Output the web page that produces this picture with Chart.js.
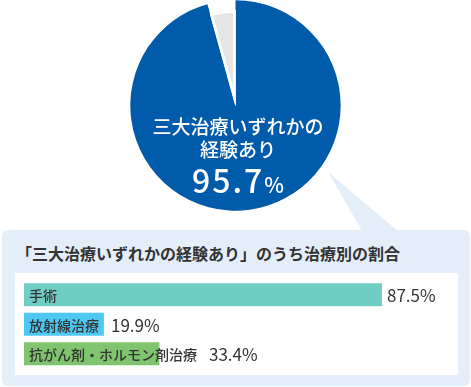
<!DOCTYPE html>
<html lang="ja">
<head>
<meta charset="utf-8">
<script src="https://cdn.jsdelivr.net/npm/chart.js@4"></script>
<style>
  html, body { margin: 0; padding: 0; background: #fff; }
  #wrap { position: relative; width: 471px; height: 387px; overflow: hidden; font-family: "Noto Sans CJK JP", sans-serif; }
  #pieBox { position: absolute; left: 130px; top: 0; width: 211px; height: 211px; }
  #callout { position: absolute; left: 0; top: 0; }
  #panel { position: absolute; left: 2px; top: 230px; width: 468px; height: 156px; background: #e4eef8; border-radius: 6px; }
  #title { position: absolute; left: 16px; top: 241px; font-size: 16px; line-height: 24px; font-weight: bold; color: #333; white-space: nowrap; }
  #barBox { position: absolute; left: 15px; top: 273px; width: 443px; height: 102px; background: #fff; }
</style>
</head>
<body>
<div id="wrap">
  <svg id="callout" width="471" height="240"><polygon points="328,172 362,231 398,231" fill="#e4eef8"/></svg>
  <div id="panel"></div>
  <div id="title">「三大治療いずれかの経験あり」のうち治療別の割合</div>
  <div id="barBox"><canvas id="barCanvas"></canvas></div>
  <div id="pieBox"><canvas id="pieCanvas"></canvas></div>
</div>
<script>
// 円グラフのデータ
const pieLabels = ['三大治療いずれかの経験あり', 'なし'];
const pieValues = [95.7, 4.3];
const pieColors = ['#005bab', '#e5e5e5'];

// 治療別の割合
const treatments = ['手術', '放射線治療', '抗がん剤・ホルモン剤治療'];
const treatmentValues = [87.5, 19.9, 33.4];
const barColors = ['#6fcdc4', '#4cc8f2', '#80c46f'];

const FONT = '"Noto Sans CJK JP", sans-serif';

// 「なし」の扇形を少し小さくする
const shrinkPlugin = {
    id: 'shrinkSlice',
    afterDatasetsUpdate(chart) {
        const arc = chart.getDatasetMeta(0).data[1];
        if (arc) arc.outerRadius = arc.outerRadius - 10;
    }
};

// 円の中の文字
const centerTextPlugin = {
    id: 'centerText',
    afterDraw(chart) {
        const ctx = chart.ctx;
        const arc = chart.getDatasetMeta(0).data[0];
        const cx = arc.x + 2.5, cy = arc.y;
        ctx.save();
        ctx.fillStyle = '#fff';
        ctx.textAlign = 'center';
        ctx.textBaseline = 'middle';
        ctx.font = '500 19px ' + FONT;
        ctx.fillText('三大治療いずれかの', cx, cy + 21);
        ctx.fillText('経験あり', cx, cy + 44);
        // 数値
        const num = pieValues[0].toFixed(1);
        ctx.letterSpacing = '2px';
        ctx.font = '500 32px ' + FONT;
        const wNum = ctx.measureText(num).width;
        ctx.letterSpacing = '0px';
        ctx.font = '500 21px ' + FONT;
        const wPct = ctx.measureText('%').width;
        const x0 = cx - (wNum + wPct) / 2;
        ctx.textAlign = 'left';
        ctx.textBaseline = 'alphabetic';
        ctx.letterSpacing = '2px';
        ctx.font = '500 32px ' + FONT;
        ctx.fillText(num, x0, cy + 87);
        ctx.letterSpacing = '0px';
        ctx.font = '500 21px ' + FONT;
        ctx.fillText('%', x0 + wNum, cy + 87);
        ctx.restore();
    }
};

new Chart(document.getElementById('pieCanvas'), {
    type: 'pie',
    data: {
        labels: pieLabels,
        datasets: [{
            data: pieValues,
            backgroundColor: pieColors,
            borderColor: '#fff',
            borderWidth: [0, 2.5],
            borderAlign: 'inner'
        }]
    },
    options: {
        responsive: true,
        maintainAspectRatio: false,
        animation: false,
        layout: { padding: 0 },
        plugins: { legend: { display: false }, tooltip: { enabled: false } }
    },
    plugins: [shrinkPlugin, centerTextPlugin]
});

// 棒の上の文字
const barLabelPlugin = {
    id: 'barLabels',
    afterDatasetsDraw(chart) {
        const ctx = chart.ctx;
        const meta = chart.getDatasetMeta(0);
        ctx.save();
        ctx.textBaseline = 'middle';
        meta.data.forEach((bar, i) => {
            ctx.fillStyle = '#333';
            ctx.font = '500 14px ' + FONT;
            const lx = bar.base + 6;
            ctx.fillText(treatments[i], lx, bar.y + 1);
            const lw = ctx.measureText(treatments[i]).width;
            const vx = Math.max(bar.x, lx + lw + 8) + 4;
            ctx.font = '17px ' + FONT;
            ctx.fillText(treatmentValues[i].toFixed(1) + '%', vx, bar.y + 1);
        });
        ctx.restore();
    }
};

new Chart(document.getElementById('barCanvas'), {
    type: 'bar',
    data: {
        labels: treatments,
        datasets: [{
            data: treatmentValues,
            backgroundColor: barColors,
            borderColor: 'rgba(255,255,255,0.35)',
            borderWidth: 1,
            borderSkipped: false,
            categoryPercentage: 1,
            barPercentage: 0.847
        }]
    },
    options: {
        indexAxis: 'y',
        responsive: true,
        maintainAspectRatio: false,
        animation: false,
        layout: { padding: { left: 8, right: 23.6, top: 7, bottom: 6.5 } },
        scales: {
            x: { display: false, min: 0, max: 100 },
            y: { display: false }
        },
        plugins: { legend: { display: false }, tooltip: { enabled: false } }
    },
    plugins: [barLabelPlugin]
});
</script>
</body>
</html>
